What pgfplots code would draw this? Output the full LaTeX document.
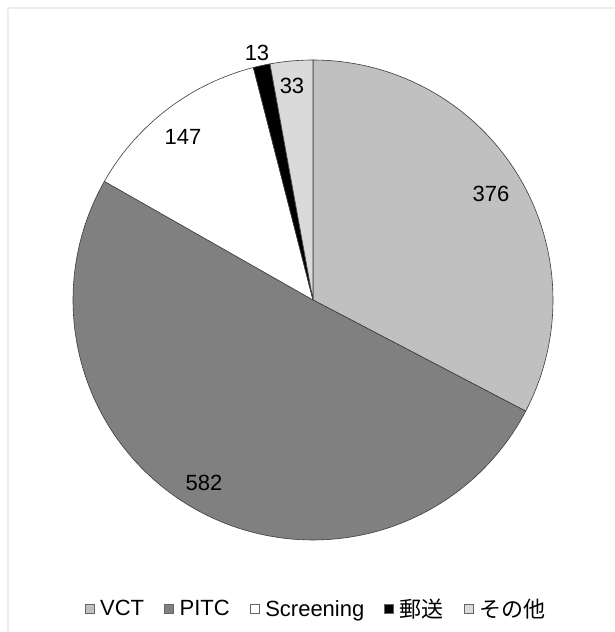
\documentclass[border=0pt]{standalone}
\usepackage{pgfplots}
\usepackage{pgfplotstable}
\pgfplotsset{compat=1.18}
\usepackage{fontspec}
\setmainfont{Liberation Sans}
\newfontfamily\jp{Noto Sans CJK JP}

\definecolor{vct}{HTML}{C0C0C0}
\definecolor{pitc}{HTML}{808080}
\definecolor{scr}{HTML}{FFFFFF}
\definecolor{mail}{HTML}{000000}
\definecolor{other}{HTML}{DADADA}
\definecolor{edge}{HTML}{3C3C3C}

% counts per testing route
\pgfplotstableread{
label value
VCT 376
PITC 582
Screening 147
mail 13
other 33
}\piedata

\pgfplotstablegetelem{0}{value}\of\piedata \let\vA\pgfplotsretval
\pgfplotstablegetelem{1}{value}\of\piedata \let\vB\pgfplotsretval
\pgfplotstablegetelem{2}{value}\of\piedata \let\vC\pgfplotsretval
\pgfplotstablegetelem{3}{value}\of\piedata \let\vD\pgfplotsretval
\pgfplotstablegetelem{4}{value}\of\piedata \let\vE\pgfplotsretval
\pgfmathsetmacro\total{\vA+\vB+\vC+\vD+\vE}
% cumulative angles, clockwise from 12 o'clock
\pgfmathsetmacro\aA{0}
\pgfmathsetmacro\aB{\vA/\total*360}
\pgfmathsetmacro\aC{(\vA+\vB)/\total*360}
\pgfmathsetmacro\aD{(\vA+\vB+\vC)/\total*360}
\pgfmathsetmacro\aE{(\vA+\vB+\vC+\vD)/\total*360}
\pgfmathsetmacro\aF{360}

\newcommand\cx{313}
\newcommand\cy{332}
\newcommand\rr{240}

\begin{document}
\begin{tikzpicture}
\clip (0,0) rectangle (614pt,632pt);
\fill[white] (0,0) rectangle (614pt,632pt);
\begin{axis}[
  width=614pt, height=632pt, scale only axis,
  xmin=0, xmax=614, ymin=0, ymax=632,
  hide axis, clip=false,
  font=\fontsize{22}{26}\selectfont,
  legend image code/.code={\draw[#1,draw=gray!80!black,line width=0.5pt] (0pt,-4.5pt) rectangle (9pt,4.5pt);},
  legend columns=-1,
  legend style={draw=none, fill=none, inner sep=0pt,
    at={(axis cs:315,23)}, anchor=center,
    nodes={inner sep=0pt, anchor=west},
    /tikz/every odd column/.append style={column sep=6pt},
    /tikz/every even column/.append style={column sep=20pt}},
]
\draw[black!7, line width=2pt] (axis cs:8,0) -- (axis cs:8,624) -- (axis cs:614,624);

\addplot[fill=vct, draw=edge, line width=0.6pt, domain=\aA:\aB, samples=90, variable=\t]
  ({\cx+\rr*sin(\t)},{\cy+\rr*cos(\t)}) -- (axis cs:\cx,\cy) -- cycle;
\addlegendentry{VCT}
\addplot[fill=pitc, draw=edge, line width=0.6pt, domain=\aB:\aC, samples=120, variable=\t]
  ({\cx+\rr*sin(\t)},{\cy+\rr*cos(\t)}) -- (axis cs:\cx,\cy) -- cycle;
\addlegendentry{PITC}
\addplot[fill=scr, draw=edge, line width=0.6pt, domain=\aC:\aD, samples=40, variable=\t]
  ({\cx+\rr*sin(\t)},{\cy+\rr*cos(\t)}) -- (axis cs:\cx,\cy) -- cycle;
\addlegendentry{Screening}
\addplot[fill=mail, draw=edge, line width=0.6pt, domain=\aD:\aE, samples=6, variable=\t]
  ({\cx+\rr*sin(\t)},{\cy+\rr*cos(\t)}) -- (axis cs:\cx,\cy) -- cycle;
\addlegendentry{\jp 郵送}
\addplot[fill=other, draw=edge, line width=0.6pt, domain=\aE:\aF, samples=12, variable=\t]
  ({\cx+\rr*sin(\t)},{\cy+\rr*cos(\t)}) -- (axis cs:\cx,\cy) -- cycle;
\addlegendentry{\jp その他}

% value labels
\node at (axis cs:491,438) {\vA};
\node at (axis cs:204,149) {\vB};
\node at (axis cs:183,495) {\vC};
\node at (axis cs:257,579) {\vD};
\node at (axis cs:292,546) {\vE};
\end{axis}
\end{tikzpicture}
\end{document}
